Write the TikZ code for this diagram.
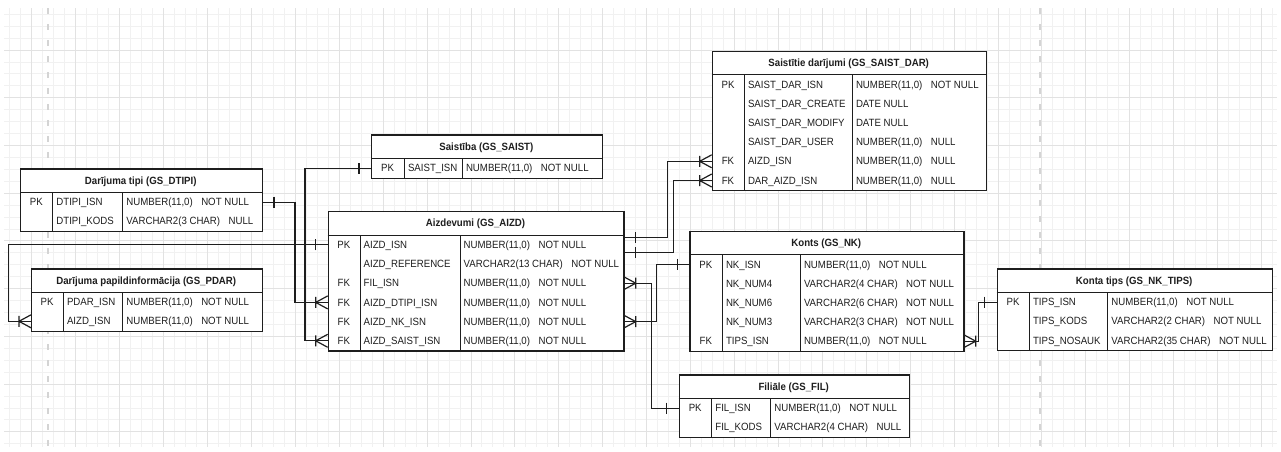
\documentclass[tikz,border=0pt]{standalone}
\usepackage{fontspec}
\setmainfont{Liberation Sans}[FakeStretch=0.92]
\usetikzlibrary{calc,decorations.markings}
\definecolor{ln}{HTML}{1E1E1E}
\definecolor{gmin}{HTML}{F1F1F1}
\definecolor{gmaj}{HTML}{E2E2E2}
\definecolor{pgl}{HTML}{D4D4D4}
\newcommand{\nmbr}{NUMBER(11,0)}
\newcommand{\colgap}{\hspace{8.5pt}}
% #1 name, #2 x, #3 y(top), #4 width, #5 divider1 x, #6 divider2 x, #7 rows, #8 header, #9 row list
\newcommand{\ertbl}[9]{%
  \node[tblbox, minimum width=#4, minimum height={24+#7*19.2}, anchor=north west] (#1) at (#2,#3) {};
  \node[hdrtxt] (#1-h) at ({#2+#4/2},{#3+12}) {#8};
  \draw[divline] (#2,{#3+24}) -- ({#2+#4},{#3+24});
  \draw[divline] (#5,{#3+24}) -- (#5,{#3+24+#7*19.2});
  \draw[divline] (#6,{#3+24}) -- (#6,{#3+24+#7*19.2});
  \foreach \cK/\cN/\cT [count=\cI] in {#9} {
    \node[rowbox, minimum width=#4, anchor=north west] (#1-r\cI) at (#2,{#3+24+(\cI-1)*19.2}) {};
    \node[celltxt] (#1-k\cI) at ({(#2+#5)/2},{#3+24+(\cI-0.5)*19.2}) {\cK};
    \node[celltxt, anchor=west] (#1-n\cI) at ({#5+3.5},{#3+24+(\cI-0.5)*19.2}) {\cN};
    \node[celltxt, anchor=west] (#1-t\cI) at ({#6+3.5},{#3+24+(\cI-0.5)*19.2}) {\cT};
  }
}
\begin{document}
\begin{tikzpicture}[x=1pt,y=-1pt,
  tblbox/.style={draw=ln, line width=1.3pt, fill=white, inner sep=0pt, rectangle},
  divline/.style={draw=ln, line width=1pt},
  hdrtxt/.style={font=\fontsize{10.5}{12}\selectfont\bfseries, text=ln, inner sep=0pt, text height=7.6pt, text depth=0pt},
  celltxt/.style={font=\fontsize{10.5}{12}\selectfont, text=ln, inner sep=0pt, text height=7.6pt, text depth=0pt},
  rowbox/.style={inner sep=0pt, minimum height=19.2pt, rectangle},
  conn/.style={draw=ln, line width=1.2pt},
  mk/.style={draw=ln, line width=1.2pt},
  barstart/.style={postaction={decorate, decoration={markings, mark=at position 12pt with {\draw[mk] (0,-5.5) -- (0,5.5);}}}},
  barend/.style={postaction={decorate, decoration={markings, mark=at position -12pt with {\draw[mk] (0,-5.5) -- (0,5.5);}}}},
  crowstart/.style={postaction={decorate, decoration={markings, mark=at position 12pt with {\draw[mk] (0,-5.5) -- (0,5.5) (0,0) -- (-12,-6.5) (0,0) -- (-12,6.5);}}}},
  crowend/.style={postaction={decorate, decoration={markings, mark=at position -12pt with {\draw[mk] (0,-5.5) -- (0,5.5) (0,0) -- (12,-6.5) (0,0) -- (12,6.5);}}}},
  mingrid/.style={draw=gmin, line width=0.8pt},
  majgrid/.style={draw=gmaj, line width=0.8pt},
  pageline/.style={draw=pgl, line width=2pt, dash pattern=on 6pt off 10pt}
]
\fill[white] (0,0) rectangle (1281,451);
\useasboundingbox (0,0) rectangle (1281,451);
% grid
\foreach \k in {-2,...,113} \draw[mingrid] ({31.7+\k*10.98},8) -- ({31.7+\k*10.98},447);
\foreach \k in {-3,...,33} \draw[mingrid] (4,{50+\k*11.93}) -- (1277,{50+\k*11.93});
\foreach \k in {0,4,...,112} \draw[majgrid] ({31.7+\k*10.98},8) -- ({31.7+\k*10.98},447);
\foreach \k in {0,4,...,32} \draw[majgrid] (4,{50+\k*11.93}) -- (1277,{50+\k*11.93});
\draw[pageline] (48.3,8) -- (48.3,447);
\draw[pageline] (1040,8) -- (1040,447);

% tables
\ertbl{dtipi}{20}{168.3}{241.5}{52.7}{122.7}{2}{Darījuma tipi (GS\_DTIPI)}%
  {PK/DTIPI\_ISN/\nmbr\colgap NOT NULL, /DTIPI\_KODS/VARCHAR2(3 CHAR)\colgap NULL}
\ertbl{pdar}{31}{268.3}{230.5}{63.3}{122.7}{2}{Darījuma papildinformācija (GS\_PDAR)}%
  {PK/PDAR\_ISN/\nmbr\colgap NOT NULL, /AIZD\_ISN/\nmbr\colgap NOT NULL}
\ertbl{saist}{371}{134.3}{230.7}{404.3}{462.3}{1}{Saistība (GS\_SAIST)}%
  {PK/SAIST\_ISN/\nmbr\colgap NOT NULL}
\ertbl{aizd}{327.7}{211}{295.6}{360}{460}{6}{Aizdevumi (GS\_AIZD)}%
  {PK/AIZD\_ISN/\nmbr\colgap NOT NULL,
   /AIZD\_REFERENCE/VARCHAR2(13 CHAR)\colgap NOT NULL,
   FK/FIL\_ISN/\nmbr\colgap NOT NULL,
   FK/AIZD\_DTIPI\_ISN/\nmbr\colgap NOT NULL,
   FK/AIZD\_NK\_ISN/\nmbr\colgap NOT NULL,
   FK/AIZD\_SAIST\_ISN/\nmbr\colgap NOT NULL}
\ertbl{sdar}{711.7}{50.7}{274}{744.3}{852.3}{6}{Saistītie darījumi (GS\_SAIST\_DAR)}%
  {PK/SAIST\_DAR\_ISN/\nmbr\colgap NOT NULL,
   /SAIST\_DAR\_CREATE/DATE NULL,
   /SAIST\_DAR\_MODIFY/DATE NULL,
   /SAIST\_DAR\_USER/\nmbr\colgap NULL,
   FK/AIZD\_ISN/\nmbr\colgap NULL,
   FK/DAR\_AIZD\_ISN/\nmbr\colgap NULL}
\ertbl{nk}{689.3}{230.6}{274}{722.3}{800.3}{5}{Konts (GS\_NK)}%
  {PK/NK\_ISN/\nmbr\colgap NOT NULL,
   /NK\_NUM4/VARCHAR2(4 CHAR)\colgap NOT NULL,
   /NK\_NUM6/VARCHAR2(6 CHAR)\colgap NOT NULL,
   /NK\_NUM3/VARCHAR2(3 CHAR)\colgap NOT NULL,
   FK/TIPS\_ISN/\nmbr\colgap NOT NULL}
\ertbl{fil}{678.7}{374.3}{230}{711.7}{770.7}{2}{Filiāle (GS\_FIL)}%
  {PK/FIL\_ISN/\nmbr\colgap NOT NULL, /FIL\_KODS/VARCHAR2(4 CHAR)\colgap NULL}
\ertbl{tips}{996.7}{268.3}{275}{1029.3}{1107.7}{3}{Konta tips (GS\_NK\_TIPS)}%
  {PK/TIPS\_ISN/\nmbr\colgap NOT NULL,
   /TIPS\_KODS/VARCHAR2(2 CHAR)\colgap NOT NULL,
   /TIPS\_NOSAUK/VARCHAR2(35 CHAR)\colgap NOT NULL}

% connectors
\coordinate (aizd-o1) at ($(aizd-r1.east)+(0,-7)$);
\coordinate (aizd-o2) at ($(aizd-r1.east)+(0,8)$);
\draw[conn, barstart, crowend] (dtipi-r1.east) -- ++(33,0) |- (aizd-r4.west);
\draw[conn, barstart, crowend] (saist-r1.west) -- ++(-66,0) |- (aizd-r6.west);
\draw[conn, barstart, crowend] (aizd-r1.west) -- ++(-319.4,0) |- (pdar-r2.west);
\draw[conn, barstart, crowend] (aizd-o1) -- ++(44,0) |- (sdar-r5.west);
\draw[conn, barstart, crowend] (aizd-o2) -- ++(49.4,0) |- (sdar-r6.west);
\draw[conn, crowstart, barend] (aizd-r3.east) -- ++(27.4,0) |- (fil-r1.west);
\draw[conn, crowstart, barend] (aizd-r5.east) -- ++(32.7,0) |- (nk-r1.west);
\draw[conn, crowstart, barend] (nk-r5.east) -- ++(15,0) |- (tips-r1.west);
\end{tikzpicture}
\end{document}
